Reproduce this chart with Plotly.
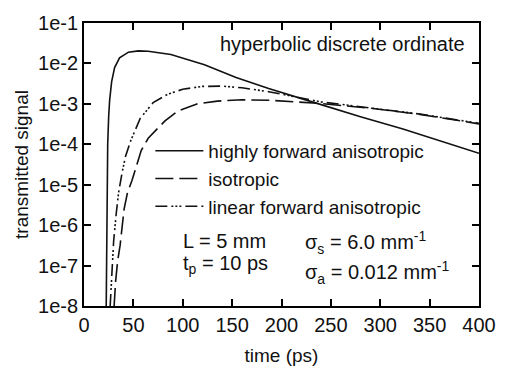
import plotly.graph_objects as go

# ---- data ----
t_forward = [22.5, 23.0, 23.5, 24, 25, 26, 28, 31, 36, 45, 55, 65, 88, 122, 154, 187, 231, 280, 323, 360, 400]
s_forward = [1e-8, 1e-6, 2.5e-5, 1e-4, 5.0e-4, 1.26e-3, 3.55e-3, 7.9e-3, 1.38e-2, 1.9e-2, 2.04e-2, 2.0e-2,
             1.66e-2, 9.3e-3, 4.5e-3, 2.4e-3, 1.12e-3, 4.8e-4, 2.4e-4, 1.26e-4, 6.0e-5]

t_isotropic = [30.5, 32, 34, 36.6, 40.6, 44, 48.5, 58, 65, 82, 95, 115, 135, 160, 187, 214, 240, 290, 340, 400]
s_isotropic = [1e-8, 4.0e-8, 1.26e-7, 3.2e-7, 2.5e-6, 6.3e-6, 1.26e-5, 7.1e-5, 1.41e-4, 3.8e-4, 6.6e-4, 1.0e-3,
               1.17e-3, 1.26e-3, 1.23e-3, 1.12e-3, 1.02e-3, 7.8e-4, 5.5e-4, 3.2e-4]

t_linear = [26.5, 28, 30, 32.7, 35, 38.6, 42, 47.5, 57, 70, 85, 100, 120, 140, 160, 187, 214, 240, 290, 340, 400]
s_linear = [1e-8, 6.3e-8, 4.0e-7, 2.0e-6, 6.3e-6, 2.0e-5, 5.0e-5, 1.26e-4, 4.4e-4, 1.07e-3, 1.74e-3, 2.3e-3,
            2.7e-3, 2.75e-3, 2.5e-3, 2.0e-3, 1.48e-3, 1.12e-3, 7.9e-4, 5.6e-4, 3.3e-4]

series_names = ["highly forward anisotropic", "isotropic", "linear forward anisotropic"]

y_tickvals = [1e-8, 1e-7, 1e-6, 1e-5, 1e-4, 1e-3, 1e-2, 1e-1]
y_ticktext = ["1e-8", "1e-7", "1e-6", "1e-5", "1e-4", "1e-3", "1e-2", "1e-1"]
x_tickvals = [0, 50, 100, 150, 200, 250, 300, 350, 400]

FONT = "Liberation Sans, Arial, Helvetica, sans-serif"
INK = "#111111"

fig = go.Figure()
styles = [
    dict(dash="solid"),
    dict(dash="18px,6px"),
    dict(dash="12px,4px,2px,2px,2px,2px,2px,4px"),
]
for i, (t, s) in enumerate([(t_forward, s_forward), (t_isotropic, s_isotropic), (t_linear, s_linear)]):
    fig.add_trace(go.Scatter(
        x=t, y=s, mode="lines", name=series_names[i], legendgroup=f"g{i}",
        line=dict(color=INK, width=1.6, **styles[i]),
    ))

fig.update_xaxes(
    range=[0, 400], tickvals=x_tickvals,
    showline=True, linecolor="black", linewidth=1.8, mirror="ticks",
    ticks="inside", ticklen=7, tickwidth=1.5, tickcolor="black",
    showgrid=False, zeroline=False,
    tickfont=dict(family=FONT, size=20, color=INK),
    title=dict(text="time (ps)", font=dict(family=FONT, size=19, color=INK), standoff=14),
)
fig.update_yaxes(
    type="log", range=[-8, -1], tickvals=y_tickvals, ticktext=y_ticktext,
    showline=True, linecolor="black", linewidth=1.8, mirror="ticks",
    ticks="inside", ticklen=7, tickwidth=1.5, tickcolor="black",
    showgrid=False, zeroline=False,
    tickfont=dict(family=FONT, size=20, color=INK),
    title=dict(text="transmitted signal", font=dict(family=FONT, size=19, color=INK), standoff=4),
)

ann_font = dict(family=FONT, size=20, color=INK)
annotations = [
    dict(text="hyperbolic discrete ordinate", x=136, y=0.926),
    dict(text="L = 5 mm", x=98, y=0.229),
    dict(text="t<sub>p</sub> = 10 ps", x=98, y=0.145),
    dict(text="σ<sub>s</sub> = 6.0 mm<sup>-1</sup>", x=222, y=0.225),
    dict(text="σ<sub>a</sub> = 0.012 mm<sup>-1</sup>", x=222, y=0.12),
]
for a in annotations:
    fig.add_annotation(xref="x", yref="paper", xanchor="left", yanchor="middle",
                       showarrow=False, font=ann_font, **a)

fig.update_layout(
    width=508, height=375,
    margin=dict(l=84, r=20, t=22, b=69),
    paper_bgcolor="white", plot_bgcolor="white",
    showlegend=True,
    legend=dict(x=0.168, y=0.615, xanchor="left", yanchor="top",
                bgcolor="rgba(0,0,0,0)", font=dict(family=FONT, size=19, color=INK),
                itemwidth=48, tracegroupgap=0, traceorder="normal"),
)

fig.write_html("out.html")
